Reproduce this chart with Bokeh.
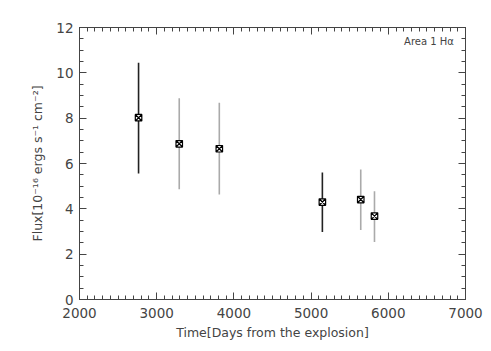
from bokeh.plotting import figure
from bokeh.models import ColumnDataSource, LinearAxis, Range1d, FixedTicker, Label, CustomJSTickFormatter
from bokeh.embed import file_html
from bokeh.resources import INLINE

days = [2765, 3292, 3811, 5146, 5643, 5821]
flux = [8.02, 6.87, 6.65, 4.30, 4.41, 3.68]
flux_low = [5.56, 4.86, 4.63, 2.98, 3.07, 2.54]
flux_high = [10.44, 8.88, 8.68, 5.60, 5.74, 4.78]
bar_colors = ["#222222", "#aaaaaa", "#aaaaaa", "#222222", "#aaaaaa", "#aaaaaa"]
x_ticks = [2000, 3000, 4000, 5000, 6000, 7000]
y_ticks = [0, 2, 4, 6, 8, 10, 12]

src = ColumnDataSource(dict(x=days, y=flux, lo=flux_low, hi=flux_high, c=bar_colors))

p = figure(width=483, height=343, output_backend="svg", toolbar_location=None,
           x_range=Range1d(2000, 7000), y_range=Range1d(0, 12),
           min_border_left=79, min_border_right=18, min_border_top=27, min_border_bottom=44)
p.xgrid.visible = False
p.ygrid.visible = False
p.outline_line_color = "#444444"
p.background_fill_color = "white"
p.border_fill_color = "white"

p.segment(x0="x", y0="lo", x1="x", y1="hi", source=src, line_color="c", line_width=1.6)
p.scatter(x="x", y="y", source=src, marker="square_x", size=6.5, line_color="black",
          fill_color="white", line_width=1.2)

font = "DejaVu Sans"
def style(ax):
    ax.major_tick_in = 7
    ax.major_tick_out = 0
    ax.minor_tick_in = 4
    ax.minor_tick_out = 0
    ax.axis_line_color = "#444444"
    ax.major_tick_line_color = "#444444"
    ax.minor_tick_line_color = "#444444"
    ax.major_label_text_font = font
    ax.major_label_text_font_size = "13.5px"
    ax.major_label_text_color = "#444444"
    ax.axis_label_text_font = font
    ax.axis_label_text_font_size = "12.5px"
    ax.axis_label_text_font_style = "normal"
    ax.axis_label_text_color = "#444444"

xt = FixedTicker(ticks=x_ticks, minor_ticks=list(range(2000, 7001, 100)))
yt = FixedTicker(ticks=y_ticks, minor_ticks=[i * 0.5 for i in range(25)])

p.xaxis.ticker = xt
p.yaxis.ticker = yt
style(p.xaxis[0])
style(p.yaxis[0])
p.xaxis.axis_label = "Time[Days from the explosion]"
p.yaxis.axis_label = "Flux[10\u207b\u00b9\u2076 ergs s\u207b\u00b9 cm\u207b\u00b2]"
p.xaxis.major_label_standoff = 8
p.yaxis.major_label_standoff = 6
p.xaxis.axis_label_standoff = 4
p.yaxis.axis_label_standoff = 8

blank = CustomJSTickFormatter(code="return ''")
top = LinearAxis(ticker=xt, formatter=blank)
right = LinearAxis(ticker=yt, formatter=blank)
style(top)
style(right)
top.major_label_standoff = 0
right.major_label_standoff = 0
p.add_layout(top, "above")
p.add_layout(right, "right")
p.min_border_top = 27
p.min_border_right = 18

p.add_layout(Label(x=6850, y=11.4, text="Area 1 H\u03b1", text_align="right",
                   text_baseline="middle", text_font=font, text_font_size="10px",
                   text_color="#444444"))

open("out.html", "w").write(file_html(p, INLINE))
